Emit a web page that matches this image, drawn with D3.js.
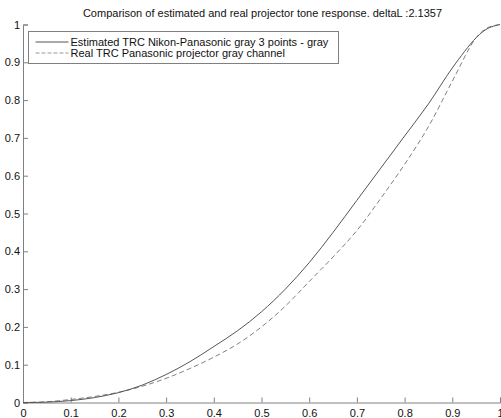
<!DOCTYPE html>
<meta charset="utf-8">
<title>TRC comparison</title>
<style>
  body { margin: 0; background: #fff; overflow: hidden; }
  svg { font-family: "Liberation Sans", Arial, sans-serif; }
  .line { fill: none; }
</style>
<body>
<script src="https://d3js.org/d3.v7.min.js"></script>
<script>
// data
var xs        = [0, 0.05, 0.1, 0.15, 0.2, 0.25, 0.3, 0.35, 0.4, 0.45, 0.5, 0.55, 0.6, 0.65, 0.7, 0.75, 0.8, 0.85, 0.9, 0.95, 0.975, 1];
var estimated = [0, 0.001, 0.005, 0.013, 0.026, 0.046, 0.074, 0.108, 0.148, 0.19, 0.24, 0.3, 0.37, 0.45, 0.535, 0.62, 0.705, 0.79, 0.885, 0.965, 0.99, 1];
var real      = [0, 0.002, 0.008, 0.016, 0.027, 0.043, 0.064, 0.09, 0.12, 0.155, 0.2, 0.255, 0.32, 0.385, 0.455, 0.54, 0.63, 0.73, 0.85, 0.965, 0.992, 1];
var xTicks = [0, 0.1, 0.2, 0.3, 0.4, 0.5, 0.6, 0.7, 0.8, 0.9, 1];
var yTicks = [0, 0.1, 0.2, 0.3, 0.4, 0.5, 0.6, 0.7, 0.8, 0.9, 1];
var title = "Comparison of estimated and real projector tone response. deltaL :2.1357";
var legendLabels = ["Estimated TRC Nikon-Panasonic gray 3 points - gray", "Real TRC Panasonic projector gray channel"];

var margin = {top: 24.5, right: 1, bottom: 15.5, left: 23},
    width = 501 - margin.left - margin.right,
    height = 418 - margin.top - margin.bottom;

var svg = d3.select("body").append("svg")
    .attr("width", 501)
    .attr("height", 418);

var g = svg.append("g")
    .attr("transform", "translate(" + margin.left + "," + margin.top + ")");

var x = d3.scaleLinear().domain([0, 1]).range([0, width]);
var y = d3.scaleLinear().domain([0, 1]).range([height, 0]);

var fmt = function(d) { return d === 0 ? "0" : d === 1 ? "1" : d3.format(".1f")(d); };

// axes (ticks point inward like matlab)
var xAxis = g.append("g")
    .attr("transform", "translate(0," + height + ")")
    .call(d3.axisBottom(x).tickValues(xTicks).tickSize(-5).tickPadding(5).tickFormat(fmt));
var yAxis = g.append("g")
    .call(d3.axisLeft(y).tickValues(yTicks).tickSize(-5).tickPadding(3).tickFormat(fmt));

[xAxis, yAxis].forEach(function(a) {
  a.select(".domain").attr("stroke", "#808080");
  a.selectAll(".tick line").attr("stroke", "#808080");
  a.selectAll(".tick text").attr("fill", "#111").style("font-size", "11px").style("font-family", "Liberation Sans, Arial, sans-serif");
});
xAxis.selectAll(".tick text").attr("dy", "0.85em");

var pts = function(ys) { return xs.map(function(v, i) { return [v, ys[i]]; }); };
var line = d3.line()
    .curve(d3.curveCatmullRom)
    .x(function(d) { return x(d[0]); })
    .y(function(d) { return y(d[1]); });

g.append("path")
    .datum(pts(real))
    .attr("class", "line")
    .attr("stroke", "#808080")
    .attr("stroke-width", 1)
    .attr("stroke-dasharray", "5,3")
    .attr("d", line);

g.append("path")
    .datum(pts(estimated))
    .attr("class", "line")
    .attr("stroke", "#555")
    .attr("stroke-width", 1)
    .attr("d", line);

// title
svg.append("text")
    .attr("x", margin.left + width / 2 + 1)
    .attr("y", 17)
    .attr("text-anchor", "middle")
    .style("font-size", "11px")
    .attr("fill", "#111")
    .text(title);

// legend
var lg = svg.append("g").attr("transform", "translate(28.5,31.5)");
lg.append("rect")
    .attr("width", 310)
    .attr("height", 32)
    .attr("fill", "#fff")
    .attr("stroke", "#808080");
legendLabels.forEach(function(lab, i) {
  var yy = 10.5 + i * 11;
  lg.append("line")
      .attr("x1", 7).attr("x2", 40)
      .attr("y1", yy).attr("y2", yy)
      .attr("stroke", i === 0 ? "#555" : "#999")
      .attr("stroke-dasharray", i === 0 ? null : "4,2");
  lg.append("text")
      .attr("x", 42)
      .attr("y", yy + 4)
      .style("font-size", "11px")
      .attr("fill", "#111")
      .text(lab);
});
</script>
</body>
